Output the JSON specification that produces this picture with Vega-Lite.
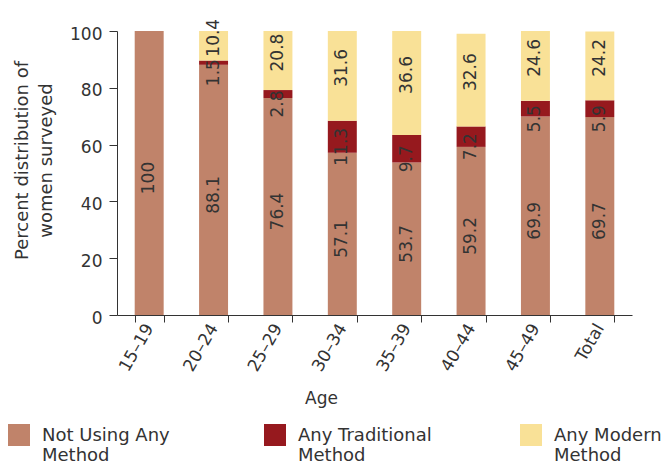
{
  "$schema": "https://vega.github.io/schema/vega-lite/v6.json",
  "width": 515,
  "height": 284,
  "autosize": {"type": "none"},
  "padding": {"left": 117, "top": 31, "right": 33, "bottom": 149},
  "background": "white",
  "config": {"view": {"stroke": null}, "font": "DejaVu Sans"},
  "data": {
    "values": [
      {"age": "15–19", "method": "Not Using Any Method", "value": 100},
      {"age": "15–19", "method": "Any Traditional Method", "value": 0},
      {"age": "15–19", "method": "Any Modern Method", "value": 0},
      {"age": "20–24", "method": "Not Using Any Method", "value": 88.1},
      {"age": "20–24", "method": "Any Traditional Method", "value": 1.5},
      {"age": "20–24", "method": "Any Modern Method", "value": 10.4},
      {"age": "25–29", "method": "Not Using Any Method", "value": 76.4},
      {"age": "25–29", "method": "Any Traditional Method", "value": 2.8},
      {"age": "25–29", "method": "Any Modern Method", "value": 20.8},
      {"age": "30–34", "method": "Not Using Any Method", "value": 57.1},
      {"age": "30–34", "method": "Any Traditional Method", "value": 11.3},
      {"age": "30–34", "method": "Any Modern Method", "value": 31.6},
      {"age": "35–39", "method": "Not Using Any Method", "value": 53.7},
      {"age": "35–39", "method": "Any Traditional Method", "value": 9.7},
      {"age": "35–39", "method": "Any Modern Method", "value": 36.6},
      {"age": "40–44", "method": "Not Using Any Method", "value": 59.2},
      {"age": "40–44", "method": "Any Traditional Method", "value": 7.2},
      {"age": "40–44", "method": "Any Modern Method", "value": 32.6},
      {"age": "45–49", "method": "Not Using Any Method", "value": 69.9},
      {"age": "45–49", "method": "Any Traditional Method", "value": 5.5},
      {"age": "45–49", "method": "Any Modern Method", "value": 24.6},
      {"age": "Total", "method": "Not Using Any Method", "value": 69.7},
      {"age": "Total", "method": "Any Traditional Method", "value": 5.9},
      {"age": "Total", "method": "Any Modern Method", "value": 24.2}
    ]
  },
  "transform": [
    {"calculate": "indexof(['Not Using Any Method','Any Traditional Method','Any Modern Method'], datum.method)", "as": "k"},
    {"stack": "value", "groupby": ["age"], "sort": [{"field": "k", "order": "ascending"}], "as": ["v0", "v1"]},
    {"calculate": "(datum.v0 + datum.v1) / 2", "as": "vmid"}
  ],
  "layer": [
    {
      "mark": {"type": "bar"},
      "encoding": {
        "x": {
          "field": "age", "type": "nominal", "sort": null,
          "scale": {"paddingInner": 0.55, "paddingOuter": 0.275},
          "axis": {
            "title": "Age", "titleX": 204, "titleY": 88, "titleBaseline": "alphabetic", "titleAlign": "center",
            "titleFontSize": 17, "titleFontWeight": "normal", "titleColor": "#333",
            "labelAngle": -60, "labelAlign": "right", "labelBaseline": "middle",
            "labelFontSize": 17, "labelColor": "#333", "labelPadding": 3,
            "tickBand": "extent", "tickSize": 7, "tickColor": "#333", "domainColor": "#333"
          }
        },
        "y": {
          "field": "v0", "type": "quantitative",
          "scale": {"domain": [0, 100], "nice": false},
          "axis": {
            "values": [0, 20, 40, 60, 80, 100], "grid": false,
            "title": ["Percent distribution of", "women surveyed"],
            "titleFontSize": 18, "titleFontWeight": "normal", "titleColor": "#333",
            "titleLineHeight": 24, "titleX": -86, "titleY": 129, "titleBaseline": "bottom", "titleAlign": "center", "titleAngle": -90,
            "labelFontSize": 17, "labelColor": "#333", "labelPadding": 7, "labelOffset": 3,
            "tickSize": 8, "tickColor": "#333", "domainColor": "#333"
          }
        },
        "y2": {"field": "v1"},
        "color": {
          "field": "method", "type": "nominal",
          "scale": {
            "domain": ["Not Using Any Method", "Any Traditional Method", "Any Modern Method"],
            "range": ["#C0836A", "#96191E", "#F9E197"]
          },
          "legend": {
            "orient": "none", "legendX": -109, "legendY": 385, "direction": "horizontal",
            "columns": 3, "gridAlign": "all", "columnPadding": 88, "padding": 0,
            "title": null, "symbolType": "M-1,-0.273H1V1.727H-1Z", "symbolSize": 484, "symbolStrokeWidth": 0, "symbolOpacity": 1,
            "labelFontSize": 18, "labelOffset": 12, "labelLimit": 300, "labelColor": "#333",
            "labelBaseline": "top", "labelLineHeight": 19,
            "labelExpr": "datum.label == 'Not Using Any Method' ? ['Not Using Any', 'Method'] : datum.label == 'Any Traditional Method' ? ['Any Traditional', 'Method'] : ['Any Modern', 'Method']"
          }
        }
      }
    },
    {
      "transform": [{"filter": "datum.k == 0"}],
      "mark": {"type": "text", "angle": 270, "fontSize": 17, "color": "#333", "align": "center", "baseline": "middle", "dx": -5},
      "encoding": {
        "x": {"field": "age", "type": "nominal", "sort": null},
        "y": {"field": "vmid", "type": "quantitative"},
        "text": {"field": "value", "type": "quantitative", "format": ".1~f"}
      }
    },
    {
      "transform": [{"filter": "datum.k == 1 && datum.value > 0"}],
      "mark": {"type": "text", "angle": 270, "fontSize": 17, "color": "#333", "align": "center", "baseline": "middle", "dx": -10},
      "encoding": {
        "x": {"field": "age", "type": "nominal", "sort": null},
        "y": {"field": "vmid", "type": "quantitative"},
        "text": {"field": "value", "type": "quantitative", "format": ".1~f"}
      }
    },
    {
      "transform": [{"filter": "datum.k == 2 && datum.value > 0"}],
      "mark": {"type": "text", "angle": 270, "fontSize": 17, "color": "#333", "align": "center", "baseline": "middle", "dx": 8},
      "encoding": {
        "x": {"field": "age", "type": "nominal", "sort": null},
        "y": {"field": "vmid", "type": "quantitative"},
        "text": {"field": "value", "type": "quantitative", "format": ".1~f"}
      }
    }
  ]
}
